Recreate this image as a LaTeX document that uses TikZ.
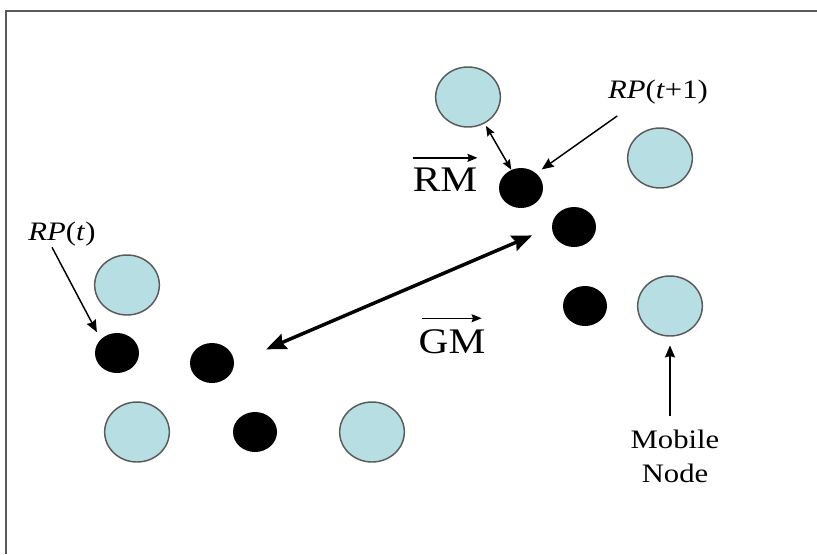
\documentclass[tikz,border=0pt]{standalone}
\usepackage{fontspec}
\setmainfont{Liberation Serif}[FakeStretch=1.15]
\usepackage{xcolor}
\usetikzlibrary{shapes.geometric, arrows.meta}

\definecolor{nodeblue}{RGB}{183,222,226}
\definecolor{rimgray}{RGB}{90,90,90}

\tikzset{
  mobile/.style={ellipse, draw=rimgray, line width=1.1pt, fill=nodeblue,
    minimum width=48.5pt, minimum height=45pt, inner sep=0pt},
  point/.style={ellipse, fill=black, minimum width=33pt, minimum height=30pt, inner sep=0pt},
  tag/.style={font=\fontsize{20}{25.5}\selectfont, inner sep=1pt},
  vec/.style={font=\fontsize{27}{30}\selectfont, inner sep=1pt},
  pointer/.style={line width=1.1pt, -{Stealth[length=9pt, width=7.5pt, inset=1pt]}},
  over/.style={line width=1.1pt, -{Stealth[length=7.5pt, width=6pt, inset=1pt]}},
}

\begin{document}
\begin{tikzpicture}[x=0.75pt, y=-0.75pt]
    \useasboundingbox (0,0) rectangle (817,554);

    % Cornice
    \draw[line width=1.4pt, rimgray] (817,11) -- (6,11) -- (6,554);

    % Mobile nodes
    \node[mobile] (m1) at (468,97) {};
    \node[mobile] (m2) at (660,158) {};
    \node[mobile] (m3) at (127,285) {};
    \node[mobile] (m4) at (137,432) {};
    \node[mobile] (m5) at (372,432) {};
    \node[mobile] (m6) at (670,306) {};

    % Reference points
    \node[point] (p1) at (521,188) {};
    \node[point] (p2) at (574,227) {};
    \node[point] (p3) at (585,306) {};
    \node[point] (p4) at (117,353) {};
    \node[point] (p5) at (212,363) {};
    \node[point] (p6) at (255,432) {};

    % Labels
    \node[tag, anchor=base] (rpt) at (62,240) {\textit{RP}(\textit{t})};
    \node[tag, anchor=base] (rpt1) at (658,98) {\textit{RP}(\textit{t}+1)};
    \node[tag, align=center] (mob) at (675,456) {Mobile\\Node};
    \node[vec, anchor=base] (gm) at (452,353) {GM};
    \node[vec, anchor=base] (rm) at (445,191) {RM};

    % Vector arrows over GM and RM
    \draw[over] ([xshift=4pt, yshift=7pt]gm.north west) -- ([xshift=-4pt, yshift=7pt]gm.north east);
    \draw[over] ([xshift=1pt, yshift=6pt]rm.north west) -- ([xshift=-1pt, yshift=6pt]rm.north east);

    % Pointers
    \coordinate (mobtop) at ([yshift=9pt]mob.north);
    \draw[pointer, shorten >=6pt] ([xshift=-7.5pt]rpt.south) -- (p4.140);
    \draw[pointer, shorten >=5pt] ([shift={(8pt,-8pt)}]rpt1.south west) -- (p1.44);
    \draw[pointer, shorten >=6.5pt] (mobtop -| m6.south) -- (m6.south);
    \draw[line width=1.1pt, {Stealth[length=7.5pt, width=6pt, inset=1pt]}-{Stealth[length=7.5pt, width=6pt, inset=1pt]}, shorten <=2pt] (m1.-58) -- (p1.118);

    % GM
    \draw[line width=2.6pt, {Stealth[length=15pt, width=12pt, inset=2pt]}-{Stealth[length=15pt, width=12pt, inset=2pt]}, shorten <=26pt, shorten >=16pt] (p5.east) -- (p2.west);
\end{tikzpicture}
\end{document}
